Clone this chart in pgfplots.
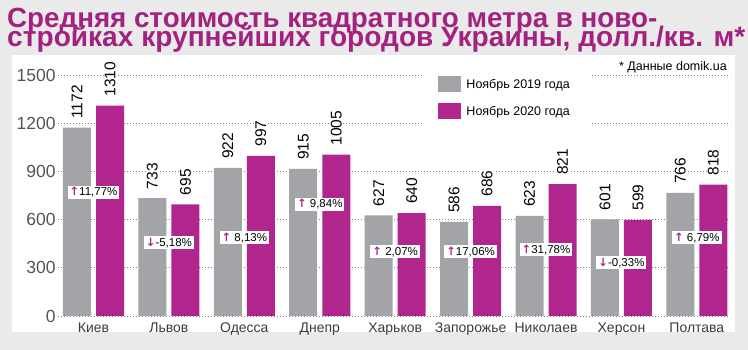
\documentclass[border=0pt]{standalone}
\usepackage{pgfplots}
\pgfplotsset{compat=1.18}
\usepackage{fontspec}
\setmainfont{Liberation Sans}
\newfontfamily\arrowfont{DejaVu Sans}
\definecolor{bggray}{RGB}{234,234,234}
\definecolor{bargray}{RGB}{162,164,167}
\definecolor{mag}{RGB}{176,38,140}
\definecolor{titlemag}{RGB}{163,34,128}
\definecolor{ticktext}{RGB}{85,85,85}
\definecolor{cattext}{RGB}{60,60,60}
\newcommand\up{{\arrowfont\bfseries\color{mag}↑}}
\newcommand\dn{{\arrowfont\bfseries\color{mag}↓}}
\begin{document}
\begin{tikzpicture}
\fill[bggray] (0pt,0pt) rectangle (748pt,350pt);
\fill[white] (12pt,18pt) rectangle (735pt,295pt);
\node[anchor=base west, text=titlemag, font=\fontsize{28}{30}\bfseries\selectfont, inner sep=0] at (7pt,322pt) {\resizebox{650pt}{!}{Средняя стоимость квадратного метра в ново-}};
\node[anchor=base west, text=titlemag, font=\fontsize{28}{30}\bfseries\selectfont, inner sep=0] at (7pt,303pt) {\resizebox{738pt}{!}{стройках крупнейших городов Украины, долл./кв. м*}};
\begin{axis}[
  at={(93.5pt,34pt)}, anchor=origin,
  scale only axis, width=672pt, height=241pt,
  xmin=-0.47, xmax=8.44, ymin=0, ymax=1500,
  ytick={0,300,...,1500},
  xtick={0,...,8},
  xticklabels={Киев,Львов,Одесса,Днепр,Харьков,Запорожье,Николаев,Херсон,Полтава},
  ymajorgrids,
  major grid style={dash pattern=on 1pt off 2pt, color=gray, line width=0.9pt},
  axis line style={draw=none},
  major tick length=0pt,
  clip=false,
  /pgf/number format/1000 sep={},
  /pgf/number format/assume math mode=true,
  yticklabel style={font=\fontsize{17.5}{18}\selectfont, text=ticktext, xshift=1pt},
  xticklabel style={font=\fontsize{14}{16}\selectfont, text=cattext, yshift=-3pt},
  legend style={at={(0.542,1.02)}, anchor=north west, fill=white, draw=none,
    font=\fontsize{12.5}{14}\selectfont, row sep=11pt, inner xsep=16pt, inner ysep=6pt,
    nodes={inner xsep=5pt}},
  legend cell align=left,
  legend image code/.code={\fill[#1,draw=none] (0pt,-8pt) rectangle (23pt,8pt);},
]
\addplot[ybar, bar width=28pt, bar shift=0pt, fill=bargray, draw=none,
  nodes near coords,
  nodes near coords style={yshift=8pt, rotate=90, anchor=west, font=\fontsize{15.5}{16}\selectfont, text=black, fill=white, inner sep=1pt}]
  coordinates {(-0.219,1172) (0.781,733) (1.781,922) (2.781,915) (3.781,627) (4.781,586) (5.781,623) (6.781,601) (7.781,766)};
\addlegendentry{Ноябрь 2019 года}
\addplot[ybar, bar width=28pt, bar shift=0pt, fill=mag, draw=none,
  nodes near coords,
  nodes near coords style={yshift=8pt, rotate=90, anchor=west, font=\fontsize{15.5}{16}\selectfont, text=black, fill=white, inner sep=1pt}]
  coordinates {(0.219,1310) (1.219,695) (2.219,997) (3.219,1005) (4.219,640) (5.219,686) (6.219,821) (7.219,599) (8.219,818)};
\addlegendentry{Ноябрь 2020 года}
\addplot[sharp plot, draw=none, mark=none, forget plot,
  nodes near coords, point meta=explicit symbolic,
  nodes near coords style={anchor=center, fill=white, inner xsep=2pt, inner ysep=1.5pt, font=\fontsize{11.5}{12}\selectfont, text=black}]
  coordinates {(0,769) [\up11,77\%] (1,456) [\dn-5,18\%] (2,487) [\up\ 8,13\%] (3,694) [\up\ 9,84\%] (4,400) [\up\ 2,07\%] (5,400) [\up17,06\%] (6,412) [\up31,78\%] (7,331) [\dn-0,33\%] (8,487) [\up\ 6,79\%]};
\node[anchor=east, font=\fontsize{12.5}{14}\selectfont, fill=white, inner sep=1pt] at (rel axis cs:0.997,1.033) {* Данные domik.ua};
\end{axis}
\pgfresetboundingbox
\path[use as bounding box] (0pt,0pt) rectangle (748pt,350pt);
\end{tikzpicture}
\end{document}
